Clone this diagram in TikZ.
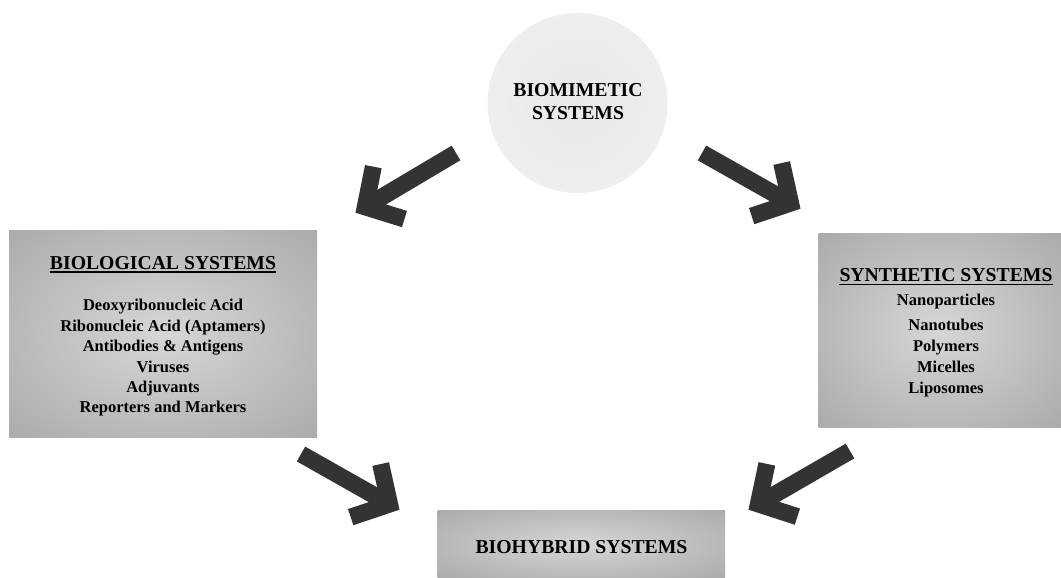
\documentclass[tikz,border=0pt]{standalone}
\usepackage{fontspec}
\setmainfont{Liberation Serif}
\usetikzlibrary{calc}
\definecolor{boxin}{gray}{0.84}
\definecolor{boxmid}{gray}{0.6}
\definecolor{boxout}{gray}{0.53}
\definecolor{circin}{gray}{0.91}
\definecolor{circout}{gray}{0.955}
\definecolor{arrowgray}{gray}{0.2}
\pgfdeclareradialshading{boxshade}{\pgfpoint{0bp}{0bp}}{color(0bp)=(boxin); color(50bp)=(boxmid); color(71bp)=(boxout); color(100bp)=(boxout)}
\pgfdeclareradialshading{circshade}{\pgfpoint{0bp}{0bp}}{color(0bp)=(circin); color(50bp)=(circout); color(100bp)=(circout)}
\tikzset{
  boxnode/.style={rectangle, inner sep=0pt, shading=boxshade},
  circnode/.style={circle, inner sep=0pt, shading=circshade},
  titletext/.style={inner sep=0pt, anchor=base, font=\fontsize{19.7}{22}\selectfont\bfseries},
  itemtext/.style={inner sep=0pt, anchor=base, font=\fontsize{16.5}{20}\selectfont\bfseries},
  uline/.style={line width=1.7pt, black},
  fatarrow/.style={line width=17pt, arrowgray, line join=miter, line cap=butt}
}
\newcommand\drawfat[2]{%
  \coordinate (#2v) at ($(#2)!12pt!(#1)$);
  \draw[fatarrow] (#1) -- (#2v);
  \draw[fatarrow] ($(#2v)!41pt!48:(#1)$) -- (#2v) -- ($(#2v)!41pt!-48:(#1)$);
}
\begin{document}
\begin{tikzpicture}[x=1pt,y=-1pt]
\useasboundingbox[fill=white] (0,0) rectangle (1061,578);
% circle
\node[circnode, minimum size=180pt] (bm) at (577.5,103) {};
\node[titletext] (bmt1) at (578,96.7) {BIOMIMETIC};
\node[titletext] (bmt2) at (578,120) {SYSTEMS};
% left box
\node[boxnode, minimum width=308pt, minimum height=207.5pt] (bio) at (163,333.75) {};
\node[titletext] (biot) at (163,269) {BIOLOGICAL SYSTEMS};
\draw[uline] ([yshift=-2.8pt]biot.base west) -- ([yshift=-2.8pt]biot.base east);
\node[itemtext] (bi1) at (163,310.5) {Deoxyribonucleic Acid};
\node[itemtext] (bi2) at (163,331) {Ribonucleic Acid (Aptamers)};
\node[itemtext] (bi3) at (163,351.4) {Antibodies \& Antigens};
\node[itemtext] (bi4) at (163,372) {Viruses};
\node[itemtext] (bi5) at (163,392.3) {Adjuvants};
\node[itemtext] (bi6) at (163,412.6) {Reporters and Markers};
% right box
\node[boxnode, minimum width=242.5pt, minimum height=194pt] (syn) at (939.75,330) {};
\node[titletext] (synt) at (946,281.7) {SYNTHETIC SYSTEMS};
\draw[uline] ([yshift=-2.8pt]synt.base west) -- ([yshift=-2.8pt]synt.base east);
\node[itemtext] (si1) at (946,305.5) {Nanoparticles};
\node[itemtext] (si2) at (946,330.5) {Nanotubes};
\node[itemtext] (si3) at (946,351.3) {Polymers};
\node[itemtext] (si4) at (946,372.2) {Micelles};
\node[itemtext] (si5) at (946,393) {Liposomes};
% bottom box
\node[boxnode, minimum width=287.5pt, minimum height=67.5pt] (hyb) at (581.25,544.25) {};
\node[titletext] (hybt) at (581.5,553) {BIOHYBRID SYSTEMS};
% arrows
\coordinate (a1t) at (456,153);
\coordinate (a1h) at (355,213);
\coordinate (a2t) at (702,153);
\coordinate (a2h) at (801,209);
\coordinate (a3t) at (301,454);
\coordinate (a3h) at (400,510);
\coordinate (a4t) at (850,451);
\coordinate (a4h) at (748,510);
\drawfat{a1t}{a1h}
\drawfat{a2t}{a2h}
\drawfat{a3t}{a3h}
\drawfat{a4t}{a4h}
\end{tikzpicture}
\end{document}
